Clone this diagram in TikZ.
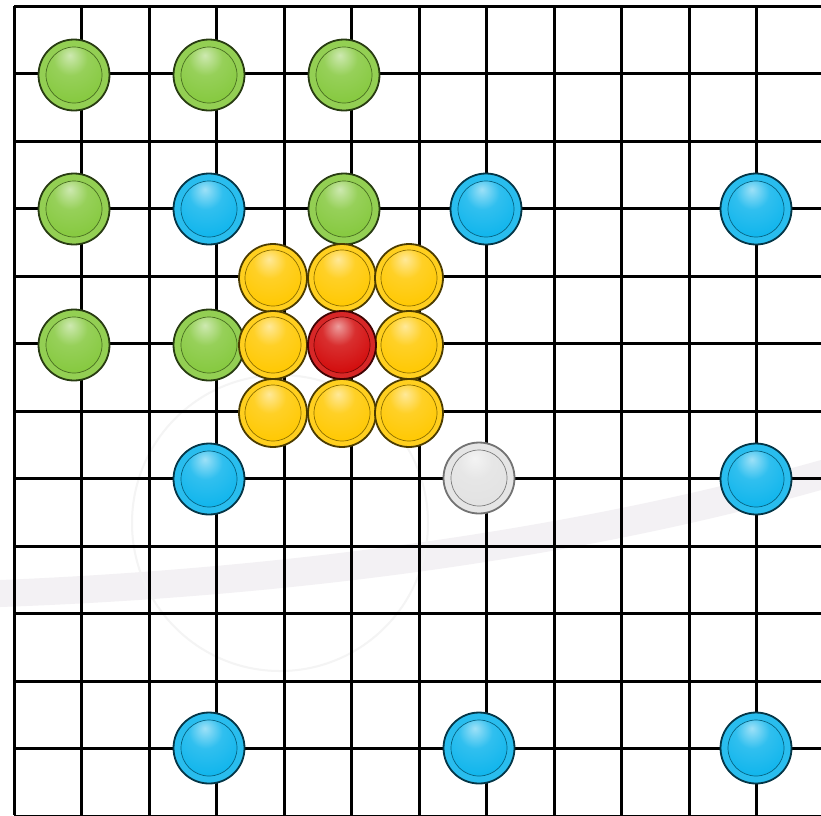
\documentclass[tikz,border=0pt]{standalone}
\definecolor{stgreen}{HTML}{84C83C}
\definecolor{stblue}{HTML}{0CB4EC}
\definecolor{styellow}{HTML}{FFC800}
\definecolor{stred}{HTML}{D20A0A}
\definecolor{stwhite}{HTML}{E2E2E2}
\definecolor{wmark}{HTML}{F3F1F4}
\definecolor{wcircle}{HTML}{F4F4F4}
\colorlet{stonecol}{gray}
\pgfdeclareradialshading[stonecol]{stonesh}{\pgfqpoint{-3bp}{14bp}}{%
 color(0bp)=(stonecol!40!white); color(12bp)=(stonecol!85!white);
 color(30bp)=(stonecol); color(46bp)=(stonecol!85!black); color(56bp)=(stonecol!62!black); color(70bp)=(stonecol!60!black)}
\tikzset{
  gridline/.style={line width=3pt, black},
  stone/.style={circle, inner sep=0pt, minimum size=71pt, line width=1.8pt,
    draw=#1!30!black, fill=#1!88!white,
    path picture={\colorlet{stonecol}{#1}%
      \shadedraw[shading=stonesh, draw=#1!55!black, line width=0.7pt]
        (path picture bounding box.center) circle (28pt);}},
  greenstone/.style={stone=stgreen},
  bluestone/.style={stone=stblue},
  yellowstone/.style={stone=styellow, minimum size=68pt},
  redstone/.style={stone=stred, minimum size=68pt},
  whitestone/.style={stone=stwhite, draw=black!55},
}
\begin{document}
\begin{tikzpicture}[x=1pt,y=-1pt]
\useasboundingbox (0,0) rectangle (821,815);
\clip (0,0) rectangle (821,815);
\fill[white] (0,0) rectangle (821,815);
% faint watermark
\fill[wmark] (0,580) .. controls (200,572) and (520,545) .. (821,460)
  -- (821,490) .. controls (520,575) and (200,600) .. (0,607) -- cycle;
\draw[wcircle, line width=2pt] (280,523) circle (148);
% grid
\foreach \i in {0,...,12}{
  \draw[gridline] ({14+67.5*\i},6) -- ({14+67.5*\i},815);
  \draw[gridline] (14,{6+67.5*\i}) -- (821,{6+67.5*\i});
}
% green stones
\node[greenstone] (g1) at (74,75) {};
\node[greenstone] (g2) at (209,75) {};
\node[greenstone] (g3) at (344,75) {};
\node[greenstone] (g4) at (74,209) {};
\node[greenstone] (g5) at (344,209) {};
\node[greenstone] (g6) at (74,345) {};
\node[greenstone] (g7) at (209,345) {};
% blue stones
\node[bluestone] (b1) at (209,209) {};
\node[bluestone] (b2) at (486,209) {};
\node[bluestone] (b3) at (756,209) {};
\node[bluestone] (b4) at (209,479) {};
\node[bluestone] (b5) at (756,479) {};
\node[bluestone] (b6) at (209,748) {};
\node[bluestone] (b7) at (479,748) {};
\node[bluestone] (b8) at (756,748) {};
% white stone
\node[whitestone] (w1) at (479,478) {};
% yellow stones
\node[yellowstone] (y1) at (273,278) {};
\node[yellowstone] (y2) at (342,278) {};
\node[yellowstone] (y3) at (409,278) {};
\node[yellowstone] (y4) at (273,345) {};
\node[yellowstone] (y5) at (409,345) {};
\node[yellowstone] (y6) at (273,413) {};
\node[yellowstone] (y7) at (342,413) {};
\node[yellowstone] (y8) at (409,413) {};
% red stone
\node[redstone] (r1) at (342,345) {};
\end{tikzpicture}
\end{document}
